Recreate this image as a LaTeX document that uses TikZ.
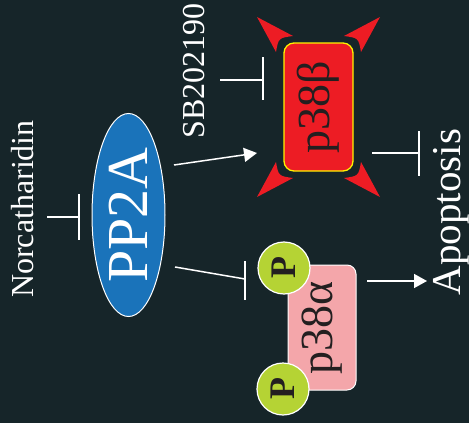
\documentclass[tikz,border=0pt]{standalone}
\usepackage{fontspec}
\setmainfont{Liberation Serif}
\usetikzlibrary{arrows.meta,shapes.geometric}
\definecolor{bg}{HTML}{162529}
\definecolor{ppblue}{HTML}{1A73BA}
\definecolor{bred}{HTML}{ED1C24}
\definecolor{byellow}{HTML}{FFF200}
\definecolor{bpink}{HTML}{F4A6AA}
\definecolor{pgreen}{HTML}{B5D334}
\definecolor{dtext}{HTML}{231F20}
\tikzset{
  wline/.style={draw=white, line width=1.5pt},
  act/.style={wline, -{Triangle[length=13pt,width=14pt]}},
  lbl/.style={rotate=90, text=white, inner sep=0pt},
  pcircle/.style={circle, fill=pgreen, draw=white, line width=1.2pt, minimum size=52pt, inner sep=0pt, rotate=90, text=dtext, font=\bfseries\fontsize{36}{36}\selectfont},
}
\begin{document}
\begin{tikzpicture}[x=1pt,y=-1pt]
\fill[bg] (0,0) rectangle (469,423);
\useasboundingbox (0,0) rectangle (469,423);

% labels
\node[lbl, font=\fontsize{32}{32}\selectfont] (norc) at (23,209) {Norcatharidin};
\node[lbl, font=\fontsize{32}{32}\selectfont] (sb) at (194,71) {SB202190};
\node[lbl, font=\fontsize{41}{41}\selectfont] (apop) at (451,212) {Apoptosis};

% PP2A
\node[ellipse, rotate=90, fill=ppblue, draw=white, line width=1pt, minimum width=203pt, minimum height=73pt, inner sep=0pt, text=white, font=\fontsize{58}{58}\selectfont] (pp2a) at (128.5,215) {PP2A};

% p38 beta with burst
\coordinate (bc) at (318.5,107);
\foreach \sx in {-1,1}{
  \foreach \sy in {-1,1}{
    \fill[bred] ([shift={(\sx*61.5,\sy*90)}]bc) -- ([shift={(\sx*25.5,\sy*71)}]bc)
      .. controls ([shift={(\sx*40,\sy*69)}]bc) .. ([shift={(\sx*42.5,\sy*55)}]bc) -- cycle;
  }
}
\node[rotate=90, rounded corners=10pt, fill=bred, draw=byellow, line width=1.3pt,
      preaction={draw=bg, line width=10pt},
      minimum width=128pt, minimum height=69pt, inner sep=0pt, text=dtext,
      font=\fontsize{46}{46}\selectfont] (p38b) at (bc) {p38β};

% p38 alpha
\node[rotate=90, rounded corners=9pt, fill=bpink, draw=white, line width=1pt,
      minimum width=125pt, minimum height=68pt, inner sep=0pt, text=dtext,
      font=\fontsize{46}{46}\selectfont] (p38a) at (322,327.5) {p38α};
\node[pcircle] (pa1) at (284,268) {P};
\node[pcircle] (pa2) at (283,389) {P};

% connectors
\coordinate (n1) at (47,217);  \coordinate (n2) at (79,217);
\coordinate (n2a) at (79,194); \coordinate (n2b) at (79,240);
\draw[wline] (n1) -- (n2);
\draw[wline] (n2a) -- (n2b);

\coordinate (s1) at (220,80);  \coordinate (s2) at (263,80);
\coordinate (s2a) at (263,57); \coordinate (s2b) at (263,100);
\draw[wline] (s1) -- (s2);
\draw[wline] (s2a) -- (s2b);

\coordinate (a1) at (174,165); \coordinate (a2) at (257,153);
\draw[act] (a1) -- (a2);

\coordinate (i1) at (175,267); \coordinate (i2) at (245,279);
\coordinate (i2a) at (245,261); \coordinate (i2b) at (245,300);
\draw[wline] (i1) -- (i2);
\draw[wline] (i2a) -- (i2b);

\coordinate (b1) at (372,153); \coordinate (b2) at (419,153);
\coordinate (b2a) at (419,131); \coordinate (b2b) at (419,176);
\draw[wline] (b1) -- (b2);
\draw[wline] (b2a) -- (b2b);

\coordinate (c1) at (367,281); \coordinate (c2) at (427,281);
\draw[act] (c1) -- (c2);
\end{tikzpicture}
\end{document}
